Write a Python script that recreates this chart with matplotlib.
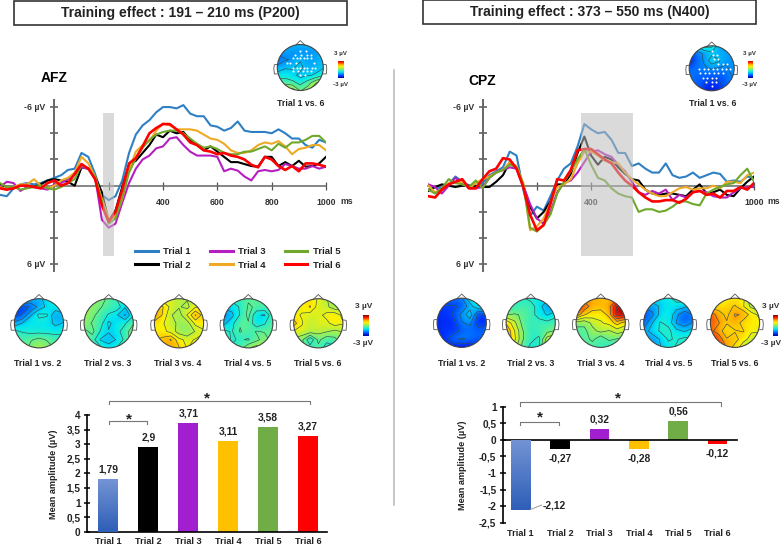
"""Training effect figure: ERP traces, difference topographies and mean amplitude bars for AFZ and CPZ."""
import numpy as np
import matplotlib
matplotlib.use("Agg")
import matplotlib.pyplot as plt
from matplotlib.colors import LinearSegmentedColormap
from matplotlib.patches import Circle, Rectangle

plt.rcParams["font.family"] = ["Liberation Sans", "DejaVu Sans"]
plt.rcParams["font.weight"] = "bold"

W, H = 784, 547

times = np.arange(-200, 1001, 25)
trials = ["Trial 1", "Trial 2", "Trial 3", "Trial 4", "Trial 5", "Trial 6"]
trace_colors = ["#2e7fc4", "#000000", "#b51fc0", "#eeaa25", "#6fa82a", "#ff0000"]
bar_colors = ["#3d6cc0", "#000000", "#a21fd0", "#ffc000", "#70ad47", "#ff0000"]

# ERP traces in microvolts, one row per 200 ms
afz_t1 = [0.7, 0.8, 0.2, -0.1, -0.2, -0.1, -0.2, -0.4,
          -0.6, -0.8, -1.2, -1.3, -2.5, -2.2, -0.9, 0.7,
          1.1, 0.8, -0.4, -2.5, -3.9, -4.6, -5.0, -5.6,
          -6.0, -6.0, -5.9, -6.15, -5.5, -5.3, -5.3, -4.6,
          -4.5, -4.2, -4.4, -4.9, -4.2, -4.1, -4.1, -4.1,
          -4.0, -4.3, -4.0, -3.6, -3.6, -3.1, -2.9, -3.5, -3.3]
afz_t2 = [-0.1, 0.1, 0.1, 0.0, 0.0, 0.1, -0.1, -0.4,
          -0.5, -0.4, -0.3, 0.0, -1.4, -1.3, -0.7, 0.5,
          2.7, 1.9, 0.1, -1.6, -1.9, -2.5, -3.1, -3.9,
          -3.7, -4.2, -4.0, -4.1, -3.5, -3.1, -2.7, -3.0,
          -2.6, -2.2, -1.8, -1.8, -1.65, -1.5, -1.45, -2.2,
          -2.2, -1.5, -1.8, -1.5, -1.9, -1.45, -1.5, -1.7, -2.2]
afz_t3 = [0.1, -0.3, -0.2, 0.4, 0.1, 0.1, 0.2, 0.3,
          -0.1, -0.2, -0.5, -0.9, -1.4, -1.3, -0.7, 2.6,
          3.2, 2.9, 1.3, -0.2, -1.3, -2.0, -2.3, -2.85,
          -3.0, -3.6, -3.7, -3.1, -2.6, -2.3, -2.3, -2.3,
          -2.2, -1.1, -1.3, -1.15, -0.7, -0.4, -1.1, -1.2,
          -1.1, -1.2, -1.65, -1.5, -1.3, -1.3, -1.5, -1.3, -1.45]
afz_t4 = [0.1, 0.3, 0.1, -0.1, -0.1, -0.5, 0.0, 0.2,
          0.0, -0.4, -0.6, -1.0, -2.2, -1.7, -0.7, 1.0,
          2.5, 2.4, 1.0, -1.2, -2.6, -3.1, -3.4, -4.2,
          -4.75, -4.6, -4.3, -4.3, -4.3, -4.2, -3.9, -3.6,
          -3.5, -3.2, -2.7, -2.5, -2.5, -2.7, -3.1, -3.3,
          -3.2, -3.4, -3.0, -2.4, -2.8, -2.9, -3.1, -3.1, -2.7]
afz_t5 = [-0.2, 0.1, 0.1, 0.3, 0.2, 0.1, 0.0, 0.2,
          0.3, 0.1, -0.2, -0.5, -1.6, -1.3, -0.7, 1.2,
          2.9, 2.5, 0.9, -1.0, -2.1, -2.9, -3.5, -3.9,
          -4.1, -4.2, -4.2, -4.0, -3.6, -3.2, -2.9, -3.0,
          -2.8, -2.5, -2.4, -2.4, -2.6, -2.6, -2.8, -3.0,
          -2.7, -3.2, -2.9, -3.3, -3.3, -3.5, -3.8, -3.8, -3.3]
afz_t6 = [0.2, 0.3, 0.2, 0.0, 0.0, 0.1, 0.2, -0.2,
          -0.4, 0.0, -0.2, -0.9, -1.65, -1.3, -0.5, 1.5,
          2.75, 2.0, 0.3, -1.7, -2.1, -3.0, -4.0, -4.4,
          -4.7, -4.7, -4.3, -3.9, -3.3, -3.1, -2.7, -2.6,
          -2.4, -2.5, -2.3, -2.2, -2.0, -1.6, -1.4, -2.2,
          -2.0, -1.5, -1.2, -1.5, -1.1, -1.7, -1.7, -1.6, -1.45]

cpz_t1 = [0.3, 0.1, 0.2, -0.1, -0.7, -0.3, 0.0, 0.1,
          -0.2, -0.8, -1.1, -1.4, -2.6, -2.3, 0.3, 2.3,
          1.6, 1.9, 0.8, -0.4, -1.3, -1.7, -3.0, -4.7,
          -4.3, -4.0, -4.1, -3.5, -2.5, -2.5, -1.5, -1.7,
          -1.3, -1.0, -1.0, -1.7, -0.8, -0.6, -0.7, -1.0,
          -0.6, -0.8, -1.0, -0.9, -0.3, -0.4, -0.3, -0.7, -0.6]
cpz_t2 = [0.4, 0.1, -0.1, 0.0, 0.1, 0.0, 0.0, 0.0,
          0.1, 0.1, -0.3, -0.8, -1.8, -1.4, 0.0, 1.6,
          2.5, 2.0, 1.2, -0.1, -0.1, -0.9, -2.5, -3.75,
          -2.3, -1.6, -2.2, -2.0, -1.4, -0.9, -0.5, -0.4,
          0.3, 0.6, 0.7, 0.6, 0.6, 0.7, 0.8, 0.3,
          -0.1, 0.6, 0.5, 0.3, 0.7, 0.8, 0.2, -0.3, -0.7]
cpz_t3 = [-0.1, 0.1, 0.6, 0.0, -0.6, -0.2, 0.2, 0.2,
          0.1, -0.6, -1.0, -1.2, -1.4, -1.3, 0.0, 1.4,
          2.5, 2.9, 2.0, 0.5, -0.2, -0.4, -1.0, -1.8,
          -2.6, -2.7, -2.4, -2.2, -1.6, -1.1, -0.3, 0.5,
          0.7, 0.4, 0.6, 0.3, 1.1, 0.7, 0.9, 0.5,
          0.4, 0.5, 0.8, 0.9, 0.9, 0.5, 0.2, 0.1, 0.1]
cpz_t4 = [0.0, 0.5, 0.3, -0.2, -0.2, -0.3, 0.2, -0.2,
          -0.5, -0.7, -1.0, -1.2, -1.8, -1.5, -0.2, 3.4,
          3.1, 2.5, 1.3, 0.1, -0.1, -0.5, -1.7, -2.6,
          -2.6, -2.3, -1.9, -1.8, -1.7, -1.0, -0.5, -0.1,
          0.3, 0.6, 0.8, 0.8, 0.5, 0.2, 0.1, 0.3,
          0.2, 0.2, 0.0, 0.2, -0.3, -0.3, -0.2, -0.8, -1.0]
cpz_t5 = [0.3, 0.6, 0.2, -0.5, -0.2, -0.1, 0.1, -0.4,
          0.2, -0.6, -1.0, -1.2, -1.6, -1.4, -0.1, 3.2,
          3.5, 3.0, 2.2, 0.6, -0.3, -1.1, -2.0, -2.8,
          -1.6, -0.6, -0.4, 0.2, 0.6, 0.8, 0.9, 2.0,
          1.8, 1.8, 2.0, 1.9, 1.6, 1.2, 1.2, 1.4,
          1.5, 0.6, 0.3, 0.1, -0.1, -0.2, -0.8, -1.3, -0.3]
cpz_t6 = [0.8, 0.9, 0.3, -0.1, -0.3, -0.5, 0.2, 0.2,
          -0.5, -1.1, -1.3, -2.1, -2.0, -1.3, 0.1, 2.2,
          3.4, 3.0, 1.4, -0.5, -0.4, -1.2, -2.7, -2.8,
          -2.8, -2.4, -2.0, -1.7, -1.0, -0.4, 0.0, 0.5,
          0.9, 1.2, 1.2, 1.1, 1.1, 1.3, 1.0, 0.5,
          0.4, 0.7, 0.6, 0.9, 0.4, 0.4, 0.1, 0.3, -0.2]

afz_amp = [1.79, 2.9, 3.71, 3.11, 3.58, 3.27]
afz_amp_labels = ["1,79", "2,9", "3,71", "3,11", "3,58", "3,27"]
cpz_amp = [-2.12, -0.27, 0.32, -0.28, 0.56, -0.12]
cpz_amp_labels = ["-2,12", "-0,27", "0,32", "-0,28", "0,56", "-0,12"]

# topographies: 7x7 values in microvolts, top row is the front of the head
afz_1v6 = [[-1.2, -1.3, -1.3, -1.3, -1.4, -1.2, -1.0], [-1.6, -1.5, -1.7, -1.7, -1.7, -1.7, -1.3],
           [-2.1, -1.8, -1.7, -1.3, -1.6, -1.5, -1.3], [-1.6, -1.3, -1.3, -1.1, -1.5, -1.4, -1.3],
           [-1.0, -1.0, -1.1, -1.4, -1.3, -1.2, -0.8], [-0.5, -0.4, -0.6, -0.9, -0.5, 0.2, 0.6],
           [0.1, 0.5, 0.6, -0.3, 0.1, 0.9, 1.0]]
cpz_1v6 = [[-1.6, -1.2, -0.5, -0.6, -1.5, -1.6, -1.6], [-2.6, -1.9, -1.7, -1.4, -1.5, -1.5, -1.6],
           [-2.7, -2.0, -1.7, -0.9, -1.2, -1.7, -1.6], [-2.0, -1.9, -1.8, -1.7, -1.8, -1.8, -1.6],
           [-1.8, -2.0, -2.0, -2.1, -2.1, -2.0, -1.6], [-1.7, -2.1, -2.2, -2.5, -2.3, -2.0, -1.8],
           [-1.7, -2.0, -2.4, -2.8, -2.5, -2.0, -1.8]]
afz_1v2 = [[-1.0, -1.0, -1.2, -1.4, -1.0, -0.5, -0.5], [-2.3, -2.4, -2.2, -1.6, -1.1, -0.9, -0.6],
           [-2.4, -2.2, -1.3, -0.6, -0.7, -1.7, -1.4], [-1.6, -1.2, -0.9, -1.0, -1.0, -1.4, -1.2],
           [-0.6, -0.8, -0.9, -0.9, -0.9, -0.9, -0.9], [-0.5, -0.4, -0.3, -0.1, -0.3, -0.5, -0.5],
           [-0.5, -0.5, -0.1, 0.2, 0.0, -0.3, -0.5]]
afz_2v3 = [[-0.2, -0.2, 0.0, -0.4, -0.8, -0.8, -0.8], [0.1, 0.0, -0.2, -0.5, -0.4, -1.2, -1.0],
           [0.1, -0.1, -0.5, -0.8, -1.2, -1.8, -0.8], [0.0, -0.3, -0.5, -1.4, -0.9, -0.8, -0.3],
           [-0.4, -0.1, -0.8, -1.2, -0.9, -0.5, 0.1], [-0.3, -0.5, -1.3, -1.5, -1.2, -0.6, 0.1],
           [0.0, -0.2, -0.6, -1.0, -0.7, -0.2, 0.0]]
afz_3v4 = [[0.5, 0.5, 0.6, 0.3, 0.3, 0.5, 0.5], [1.3, 1.3, 0.6, 0.3, 0.1, 0.7, 0.8],
           [1.9, 1.2, 0.3, 0.0, 0.8, 1.8, 1.0], [1.0, 0.8, 0.5, 0.1, 0.0, 0.9, 0.9],
           [0.9, 0.9, 0.6, 0.0, -0.2, 0.3, 0.7], [1.2, 1.4, 1.8, 0.9, 0.6, 0.8, 0.9],
           [1.3, 1.4, 1.4, 1.3, 0.7, 1.1, 1.0]]
afz_4v5 = [[-0.6, -0.6, -0.6, -0.3, -0.5, -0.5, -0.3], [-1.1, -1.0, -0.7, -0.2, -0.3, -0.3, -0.3],
           [-1.9, -1.4, -0.7, -0.1, -1.2, -1.3, -0.3], [-1.4, -0.9, -0.3, -0.3, -1.2, -0.8, -0.2],
           [-0.6, -0.8, -0.2, -0.5, -0.2, -0.3, -0.4], [-0.5, -0.8, -0.7, -0.8, -0.4, 0.0, -0.5],
           [-0.6, -0.7, -0.5, 0.2, 0.5, 0.1, -0.5]]
afz_5v6 = [[0.6, 0.7, 1.0, 0.7, 0.3, -0.2, -0.3], [0.6, 0.9, 1.3, 0.5, 0.4, -0.1, 0.0],
           [0.9, 0.7, 0.5, 0.6, 0.9, 1.1, 0.6], [1.5, 0.8, 0.3, 0.7, 0.6, 1.0, 0.8],
           [0.7, 0.6, 0.5, 0.4, 0.3, 0.1, 0.3], [0.1, -0.1, -1.2, -0.1, -0.6, -0.4, 0.1],
           [0.0, -0.2, -0.5, -0.4, -1.0, -0.9, -0.2]]
cpz_1v2 = [[-2.0, -1.9, -1.9, -1.8, -0.9, -0.4, -0.3], [-2.3, -2.3, -2.3, -2.2, -1.5, -0.8, -0.7],
           [-2.4, -2.4, -2.2, -1.6, -0.9, -2.4, -2.2], [-2.5, -2.5, -2.4, -1.8, -1.6, -2.6, -2.4],
           [-2.5, -2.3, -2.5, -2.1, -2.0, -2.0, -1.9], [-2.5, -2.4, -1.8, -1.7, -1.8, -2.1, -2.0],
           [-2.5, -2.5, -2.6, -2.7, -2.7, -2.4, -2.2]]
cpz_2v3 = [[-0.7, -0.8, -0.7, -0.9, -0.9, -1.0, -1.0], [-0.5, -0.7, -0.5, -0.5, -1.0, -1.7, -1.7],
           [-0.3, -0.2, -0.3, -0.5, -1.0, -1.3, -1.0], [1.2, 0.4, -0.4, -0.6, -0.5, -0.6, -0.4],
           [1.8, 0.8, -0.2, -0.7, -0.5, -0.4, -0.2], [1.8, 0.9, -0.2, -0.6, -0.9, 0.5, 0.9],
           [1.0, 0.5, -0.4, -0.9, -0.8, 0.9, 1.0]]
cpz_3v4 = [[1.3, 1.4, 1.5, 1.3, 1.2, 1.5, 1.5], [2.6, 2.1, 1.5, 1.5, 1.5, 2.8, 2.6],
           [2.2, 1.3, 1.0, 0.9, 1.4, 3.0, 2.8], [0.0, -0.1, 0.4, 0.7, 0.9, 1.5, 1.0],
           [-0.5, -0.4, 0.1, 0.4, 0.2, 0.5, 0.3], [-0.3, -0.5, -0.1, -0.7, -0.1, -0.3, -0.3],
           [-0.3, -0.3, -0.6, -0.4, -0.9, -0.6, -0.3]]
cpz_4v5 = [[-1.0, -1.0, -1.0, -0.9, -0.5, -0.5, -0.5], [-1.5, -1.5, -1.2, -1.0, -1.0, -1.1, -1.5],
           [-2.3, -1.9, -1.1, -0.8, -1.6, -2.2, -1.7], [-2.1, -1.3, -0.7, -0.9, -1.8, -2.1, -1.7],
           [-1.6, -1.0, -0.7, -0.6, -1.1, -1.3, -1.0], [-1.6, -1.7, -1.2, -0.7, -0.8, -0.6, -0.7],
           [-1.6, -1.6, -1.3, -0.9, -0.7, -0.9, -0.9]]
cpz_5v6 = [[0.3, 0.5, 0.8, 1.0, 0.9, -0.3, -0.6], [1.0, 1.0, 1.1, 1.3, 0.8, 0.1, -0.2],
           [2.1, 1.5, 1.1, 1.8, 1.7, 1.0, 0.6], [2.0, 1.8, 1.3, 1.6, 1.0, 0.9, 0.9],
           [1.9, 1.5, 0.9, 1.2, 1.3, 0.8, 0.8], [2.4, 2.1, 1.3, 1.5, 0.9, 0.6, 0.4],
           [2.4, 2.2, 1.7, 1.0, 0.5, -0.2, 0.1]]

# significant electrodes on the "Trial 1 vs. 6" maps (x, y on the unit head)
afz_dots_x = [0.0, 0.25, -0.25, 0.05, 0.3, 0.45, -0.3, -0.15, 0.0, 0.15, 0.3, 0.45, -0.6, -0.45, -0.2, 0.6,
              -0.3, -0.15, 0.0, 0.15, 0.3, 0.5, 0.65, -0.3, -0.1, 0.1, 0.3, 0.45, 0.0, 0.2]
afz_dots_y = [0.72, 0.72, 0.55, 0.55, 0.55, 0.55, 0.4, 0.4, 0.4, 0.4, 0.4, 0.4, 0.2, 0.2, 0.2, 0.2,
              0.0, 0.0, 0.0, 0.0, 0.0, 0.0, 0.0, -0.15, -0.15, -0.15, -0.15, -0.15, -0.32, -0.32]
cpz_dots_x = [0.0, 0.05, 0.25, 0.1, 0.3, 0.3, 0.5, 0.7, -0.55, -0.35, -0.15, 0.05, 0.25, 0.45, 0.65, 0.8,
              -0.5, -0.3, -0.1, 0.1, 0.3, 0.5, -0.4, -0.2, 0.0, 0.2, -0.25, 0.0, 0.2, 0.0]
cpz_dots_y = [0.78, 0.6, 0.6, 0.42, 0.42, 0.2, 0.2, 0.2, -0.02, -0.02, -0.02, -0.02, -0.02, -0.02, -0.02, -0.02,
              -0.22, -0.22, -0.22, -0.22, -0.22, -0.22, -0.42, -0.42, -0.42, -0.42, -0.62, -0.62, -0.62, -0.8]

# the maps use a jet-like scale with a shorter dark blue end than matplotlib's jet
topo_stops = [0.0, 0.1, 0.217, 0.333, 0.433, 0.5, 0.65, 0.75, 0.875, 1.0]
topo_colors = ["#000090", "#0030ff", "#0090ff", "#00e8f0", "#50f0a0", "#90f060", "#fff000", "#ffb000", "#ff2000",
               "#900000"]
topo_cmap = LinearSegmentedColormap.from_list("topo", list(zip(topo_stops, topo_colors)))


def px_axes(x0, y0, x1, y1, **kw):
    # axes placed by reference pixels, y counted from the top
    return fig.add_axes([x0 / W, 1 - y1 / H, (x1 - x0) / W, (y1 - y0) / H], **kw)


def draw_trace_panel(x0, x1, traces, win, ticks, labels, legend=False):
    ax = px_axes(x0, 100.5, x1, 270.9)
    ax.patch.set_alpha(0)
    for vals, col in zip(traces, trace_colors):
        ax.plot(times, vals, color=col, lw=1.9 if col == "#ff0000" else 1.5, solid_joinstyle="round", zorder=3)
    ax.axvspan(win[0], win[1], ymin=(6.5 - 5.37) / 13, ymax=(6.5 + 5.55) / 13, facecolor="#bcbcbc", alpha=0.55,
               lw=0, zorder=5)
    ax.set_xlim(-200, 1000)
    ax.set_ylim(6.5, -6.5)
    for s in ["top", "right"]:
        ax.spines[s].set_visible(False)
    ax.spines["left"].set_position(("data", 0))
    ax.spines["bottom"].set_position(("data", 0))
    ax.spines["left"].set_color("#666666")
    ax.spines["bottom"].set_color("#666666")
    ax.spines["left"].set_linewidth(1.4)
    ax.spines["bottom"].set_linewidth(1.1)
    ax.set_yticks([-6, -4, -2, 2, 4, 6])
    ax.set_yticklabels(["", "", "", "", "", ""])
    ax.tick_params(axis="y", direction="inout", length=6, width=1.1, color="#555555")
    ax.set_xticks(ticks)
    ax.set_xticklabels(labels, fontsize=6.3, color="#333333")
    ax.tick_params(axis="x", direction="inout", length=6, width=0.9, color="#555555", pad=6)
    if legend:
        leg = ax.legend(ax.lines[:6], trials, ncol=3, loc="upper left", bbox_to_anchor=(0.40, 0.166), frameon=False,
                        fontsize=6.8, handlelength=2.4, handletextpad=0.6, columnspacing=2.0, labelspacing=0.45,
                        borderpad=0, labelcolor="#222222")
        for handle in leg.get_lines():
            handle.set_linewidth(2.2)
    return ax


def draw_head(cx, cy, r, vals, dots=None):
    size = r * 1.45
    ax = px_axes(cx - size, cy - size, cx + size, cy + size)
    ax.set_xlim(-1.45, 1.45)
    ax.set_ylim(-1.45, 1.45)
    ax.axis("off")
    z = np.array(vals)
    grid = np.linspace(-1, 1, 7)
    circle = Circle((0, 0), 1, transform=ax.transData)
    im = ax.imshow(z, cmap=topo_cmap, vmin=-3, vmax=3, extent=(-7 / 6, 7 / 6, -7 / 6, 7 / 6),
                   interpolation="bicubic", zorder=1)
    im.set_clip_path(circle)
    cs = ax.contour(grid, grid[::-1], z, levels=np.arange(-2.75, 3, 0.5), colors="#2f4f4f", linewidths=0.45,
                    linestyles="solid", zorder=2)
    cs.set_clip_path(circle)
    ax.add_patch(Circle((0, 0), 1, fill=False, ec="#444444", lw=0.8, zorder=3))
    ax.plot([-0.2, 0, 0.2], [0.98, 1.17, 0.98], color="#555555", lw=0.6)
    ax.plot([-1, -1.13, -1.15, -1.13, -1.0], [0.14, 0.12, -0.05, -0.28, -0.28], color="#555555", lw=0.6)
    ax.plot([1, 1.13, 1.15, 1.13, 1.0], [0.14, 0.12, -0.05, -0.28, -0.28], color="#555555", lw=0.6)
    if dots is not None:
        ax.plot(dots[0], dots[1], "o", color="white", ms=1.5, mew=0, zorder=4)


def draw_colorbar(x0, x1, y0, y1, lx, ly_top, ly_bot, fs):
    ax = px_axes(x0, y0, x1, y1)
    ax.imshow(np.linspace(3, -3, 64).reshape(-1, 1), cmap=topo_cmap, vmin=-3, vmax=3, aspect="auto")
    ax.axis("off")
    over.text(lx, ly_top, "3 µV", ha="center", va="center", fontsize=fs, color="#333333")
    over.text(lx, ly_bot, "-3 µV", ha="center", va="center", fontsize=fs, color="#333333")


def draw_bars(box, xlim, ylim, yticks, ytick_labels, vals, labels):
    ax = px_axes(*box)
    ax.patch.set_alpha(0)
    bars = ax.bar(range(6), vals, width=0.5, color=bar_colors, zorder=2)
    # first bar fades from light at the top to darker at the bottom
    b = bars[0]
    cmap = LinearSegmentedColormap.from_list("t1", ["#7393d4", "#2f5fb8"])
    top = max(b.get_y(), b.get_y() + b.get_height())
    bot = min(b.get_y(), b.get_y() + b.get_height())
    im = ax.imshow(np.linspace(0, 1, 32).reshape(-1, 1), cmap=cmap, aspect="auto",
                   extent=(b.get_x(), b.get_x() + b.get_width(), bot, top), zorder=3)
    im.set_clip_path(b)
    ax.set_xlim(*xlim)
    ax.set_ylim(*ylim)
    for s in ["top", "right"]:
        ax.spines[s].set_visible(False)
    ax.spines["left"].set_linewidth(1.2)
    ax.spines["bottom"].set_linewidth(1.2)
    ax.set_yticks(yticks)
    ax.set_yticklabels(ytick_labels, fontsize=7.2, color="#222222")
    ax.tick_params(axis="y", direction="inout", length=4, width=1.1, pad=2.5)
    ax.tick_params(axis="x", length=0)
    return ax


def bracket(ax, x0, x1, y, drop, sx, sy):
    ax.plot([x0, x0, x1, x1], [y - drop, y, y, y - drop], color="#777777", lw=0.8, clip_on=False, zorder=4)
    ax.text(sx, sy, "*", ha="center", va="center", fontsize=11, color="#222222", clip_on=False)


fig = plt.figure(figsize=(W / 100, H / 100), dpi=100)
over = fig.add_axes([0, 0, 1, 1], zorder=10)
over.set_xlim(0, W)
over.set_ylim(H, 0)
over.axis("off")
over.patch.set_alpha(0)

# heading boxes and centre divider
for x0, y0, title in [(14, 1, "Training effect : 191 – 210 ms (P200)"), (423, 0, "Training effect : 373 – 550 ms (N400)")]:
    over.add_patch(Rectangle((x0, y0), 333.5, 23.5, fc="white", ec="#333333", lw=1.2))
    over.text(x0 + 166.7, y0 + 12, title, ha="center", va="center", fontsize=10, color="#222222")
over.plot([394, 394], [70, 505], color="#bdbdbd", lw=1.2)

# AFZ traces
draw_trace_panel(0, 326, [afz_t1, afz_t2, afz_t3, afz_t4, afz_t5, afz_t6], (180, 220),
                 [200, 400, 600, 800, 1000], ["", "400", "600", "800", "1000"], legend=True)
over.text(54.5, 78, "AFZ", ha="center", va="center", fontsize=10)
over.text(45, 107.3, "-6 µV", ha="right", va="center", fontsize=6.3, color="#333333")
over.text(45, 264.3, "6 µV", ha="right", va="center", fontsize=6.3, color="#333333")
over.text(346.7, 201, "ms", ha="center", va="center", fontsize=6.3, color="#333333")

# CPZ traces
draw_trace_panel(428.3, 754, [cpz_t1, cpz_t2, cpz_t3, cpz_t4, cpz_t5, cpz_t6], (361, 554),
                 [200, 400, 1000], ["", "400", "1000"])
over.text(482.5, 81, "CPZ", ha="center", va="center", fontsize=10)
over.text(474, 107.3, "-6 µV", ha="right", va="center", fontsize=6.3, color="#333333")
over.text(474, 264.3, "6 µV", ha="right", va="center", fontsize=6.3, color="#333333")
over.text(774, 201, "ms", ha="center", va="center", fontsize=6.3, color="#333333")

# Trial 1 vs. 6 maps
draw_head(300.3, 67.5, 23, afz_1v6, (afz_dots_x, afz_dots_y))
draw_colorbar(338, 344, 60.7, 78.3, 340.5, 53.5, 84.5, 4.5)
over.text(301, 103.5, "Trial 1 vs. 6", ha="center", va="center", fontsize=6.3, color="#222222")
draw_head(711.7, 68.3, 22.5, cpz_1v6, (cpz_dots_x, cpz_dots_y))
draw_colorbar(747.7, 752, 60.7, 78.3, 749.5, 53.5, 84.5, 4.5)
over.text(713, 103.5, "Trial 1 vs. 6", ha="center", va="center", fontsize=6.3, color="#222222")

# consecutive trial maps
pair_labels = ["Trial 1 vs. 2", "Trial 2 vs. 3", "Trial 3 vs. 4", "Trial 4 vs. 5", "Trial 5 vs. 6"]
afz_maps = [afz_1v2, afz_2v3, afz_3v4, afz_4v5, afz_5v6]
cpz_maps = [cpz_1v2, cpz_2v3, cpz_3v4, cpz_4v5, cpz_5v6]
for cx, vals, lab in zip([39, 108.7, 179, 248.3, 318.3], afz_maps, pair_labels):
    draw_head(cx, 323.3, 24.6, vals)
    over.text(cx - 1, 364, lab, ha="center", va="center", fontsize=6.3, color="#222222")
for cx, vals, lab in zip([461.7, 530.7, 600.7, 668.3, 735], cpz_maps, pair_labels):
    draw_head(cx, 322.8, 24.6, vals)
    over.text(cx, 364, lab, ha="center", va="center", fontsize=6.3, color="#222222")
draw_colorbar(362.7, 368.3, 315, 336, 363.5, 307, 343.5, 6)
draw_colorbar(773, 778, 315, 336, 771, 307, 343.5, 6)

# AFZ bars
ax = draw_bars((86.7, 415, 327, 531.7), (-0.54, 5.47), (0, 4), np.arange(0, 4.5, 0.5),
               ["0", "0,5", "1", "1,5", "2", "2,5", "3", "3,5", "4"], afz_amp, afz_amp_labels)
ax.set_xticks(range(6))
ax.set_xticklabels(trials, fontsize=6.6, color="#222222")
ax.tick_params(axis="x", pad=4)
for i, (v, lab) in enumerate(zip(afz_amp, afz_amp_labels)):
    ax.annotate(lab, (i, v), xytext=(0, 3.5), textcoords="offset points", ha="center", va="bottom", fontsize=7.4,
                color="#222222", annotation_clip=False)
bracket(ax, 0.02, 5.04, 4.49, 0.13, 2.48, 4.55)
bracket(ax, 0.02, 0.98, 3.78, 0.09, 0.51, 3.86)
over.text(54, 474, "Mean amplitude (µV)", rotation=90, ha="center", va="center", fontsize=6.6, color="#222222")

# CPZ bars
ax = draw_bars((502.7, 406.7, 737.3, 522.7), (-0.457, 5.5), (-2.5, 1), np.arange(-2.5, 1.5, 0.5),
               ["-2,5", "-2", "-1,5", "-1", "-0,5", "0", "0,5", "1"], cpz_amp, cpz_amp_labels)
ax.spines["bottom"].set_position(("data", 0))
ax.set_xticks(range(6))
ax.set_xticklabels(["", "", "", "", "", ""])
for i, lab in enumerate(trials):
    ax.text(i, -2.84, lab, ha="center", va="center", fontsize=6.6, color="#222222")
for i, (v, lab) in enumerate(zip(cpz_amp, cpz_amp_labels)):
    if i == 0:
        ax.plot([0.25, 0.53], [v + 0.02, v + 0.15], color="#999999", lw=0.7, zorder=4)
        ax.text(0.56, v + 0.14, lab, ha="left", va="center", fontsize=7.4, color="#222222")
    elif v > 0:
        ax.annotate(lab, (i, v), xytext=(0, 3.5), textcoords="offset points", ha="center", va="bottom", fontsize=7.4,
                    color="#222222")
    else:
        ax.annotate(lab, (i, v), xytext=(0, -3.5), textcoords="offset points", ha="center", va="top", fontsize=7.4,
                    color="#222222")
bracket(ax, -0.03, 5.08, 1.14, 0.11, 2.48, 1.26)
bracket(ax, -0.03, 0.97, 0.54, 0.08, 0.48, 0.66)
over.text(463, 465, "Mean amplitude (µV)", rotation=90, ha="center", va="center", fontsize=6.6, color="#222222")

fig.savefig("out.png", dpi=100)
